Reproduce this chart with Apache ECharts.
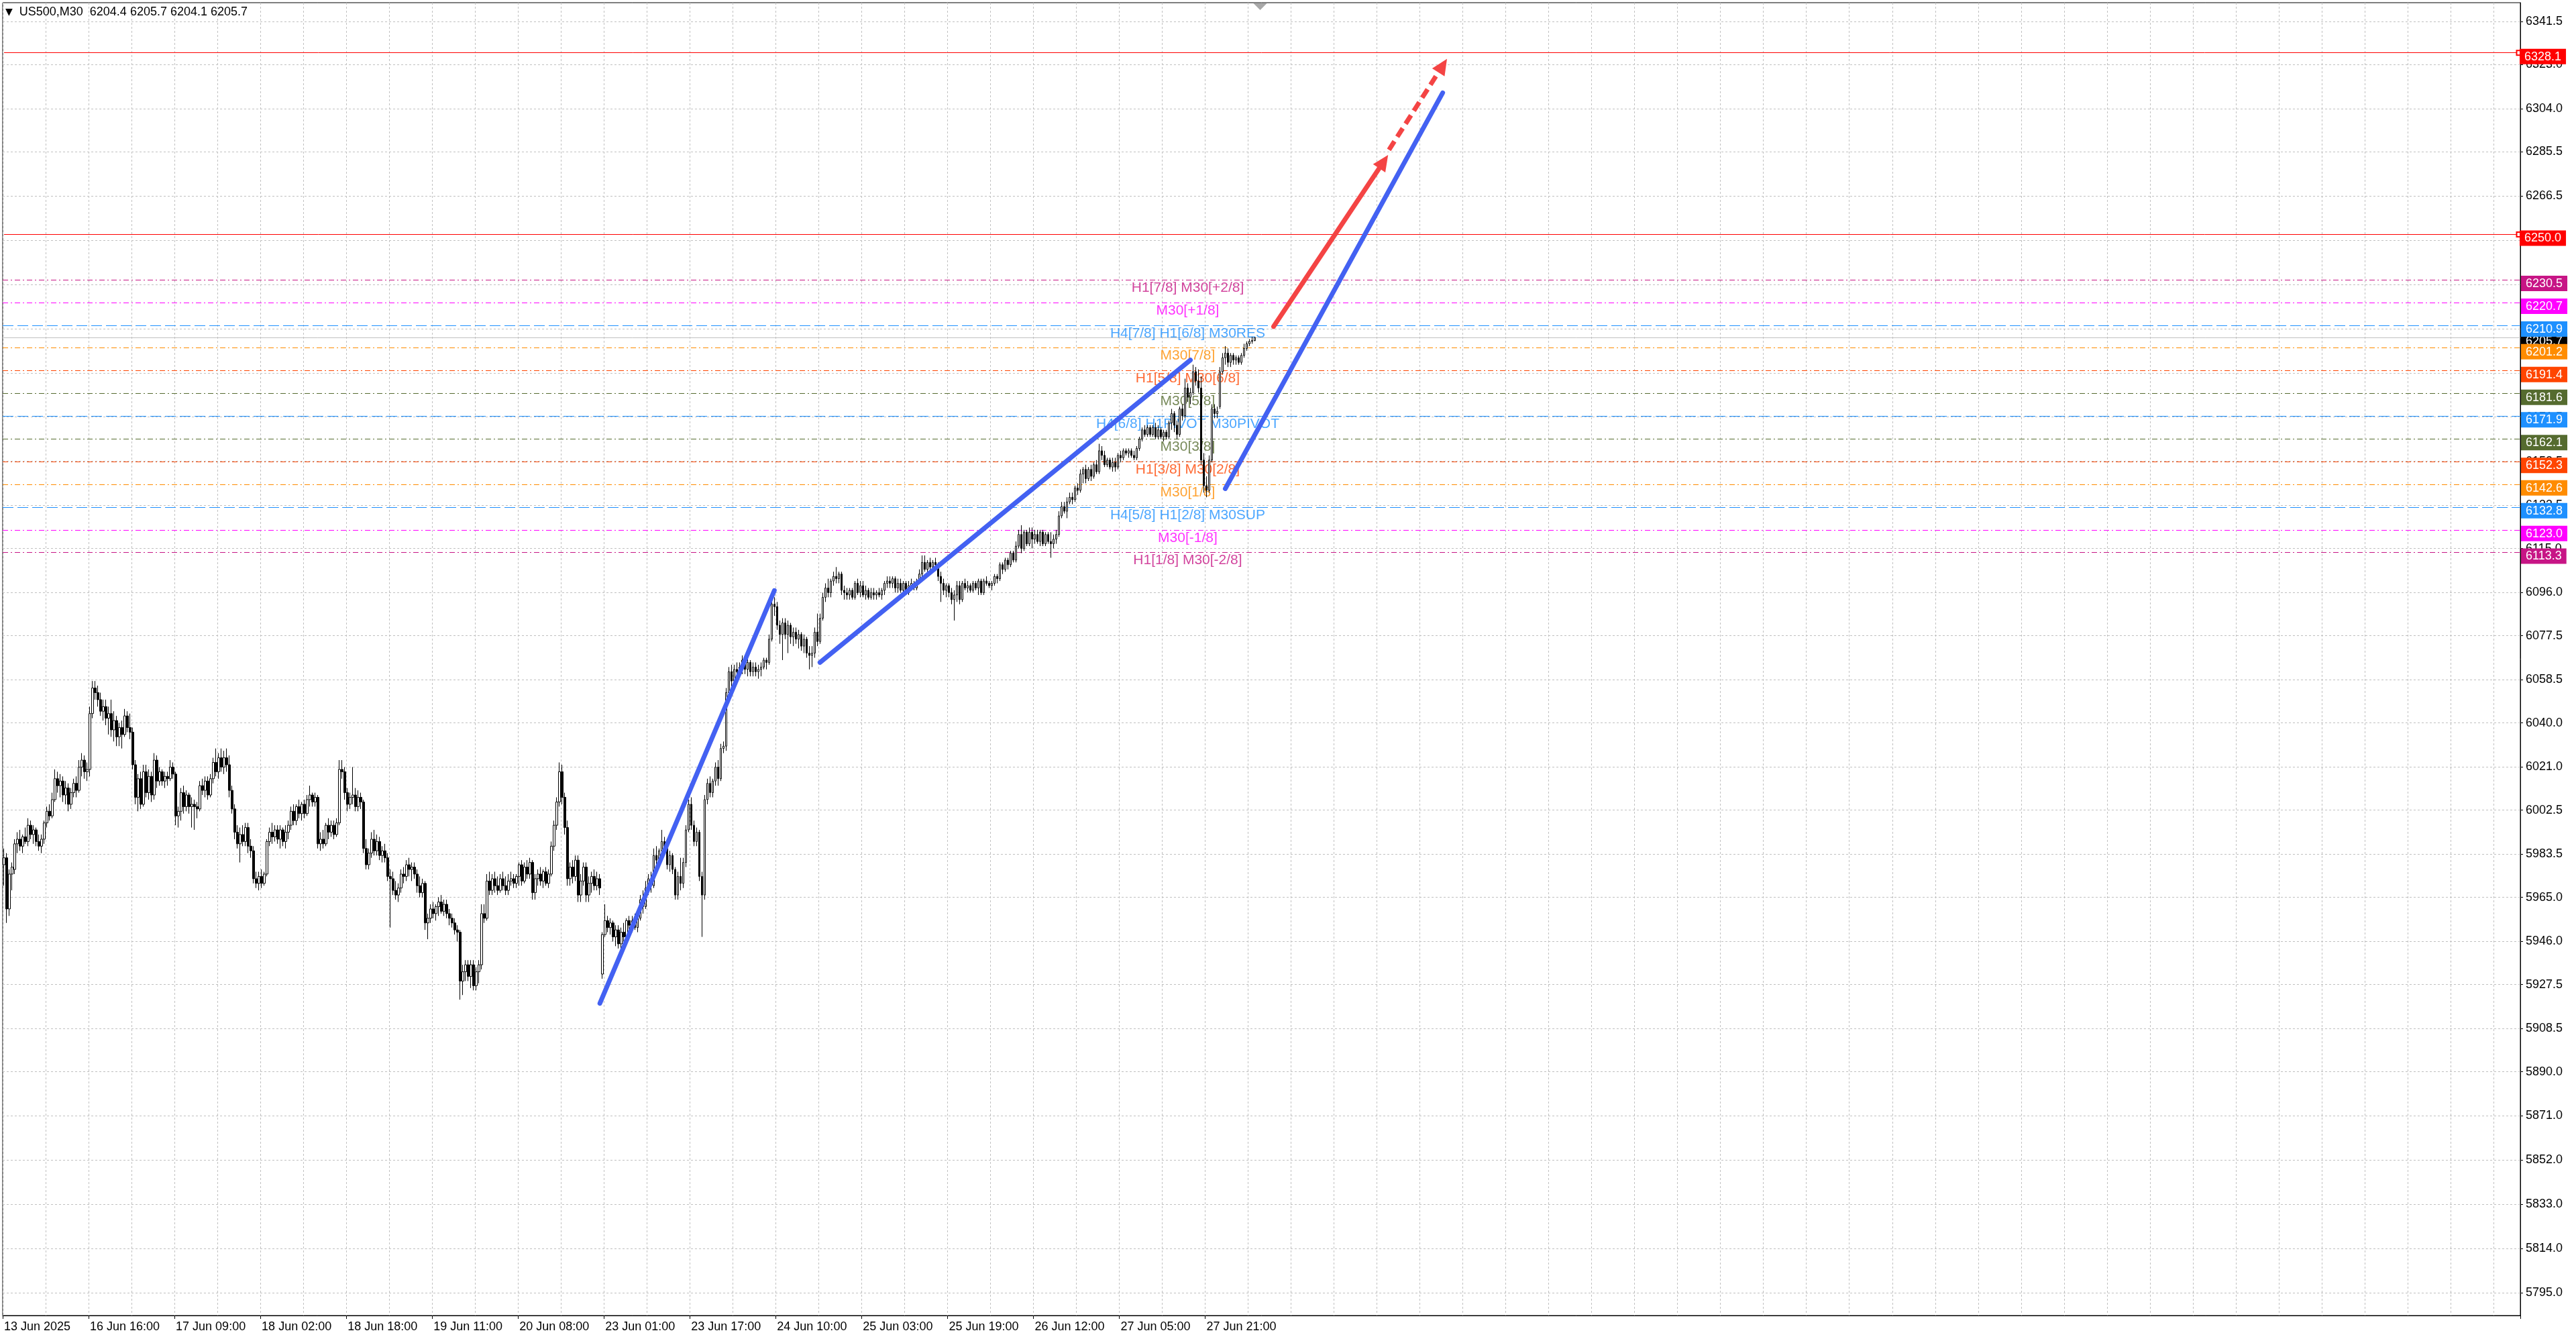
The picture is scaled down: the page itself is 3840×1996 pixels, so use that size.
<!DOCTYPE html>
<html><head><meta charset="utf-8">
<script src="https://cdn.jsdelivr.net/npm/echarts@6/dist/echarts.min.js"></script>
<style>html,body{margin:0;padding:0;background:#fff}#c{width:3840px;height:1996px}</style>
</head><body><div id="c"></div>
<script>
const timeTicks = ['13 Jun 2025','16 Jun 16:00','17 Jun 09:00','18 Jun 02:00','18 Jun 18:00','19 Jun 11:00','20 Jun 08:00','23 Jun 01:00','23 Jun 17:00','24 Jun 10:00','25 Jun 03:00','25 Jun 19:00','26 Jun 12:00','27 Jun 05:00','27 Jun 21:00'];
const yTickValues = [5795.0,5814.0,5833.0,5852.0,5871.0,5890.0,5908.5,5927.5,5946.0,5965.0,5983.5,6002.5,6021.0,6040.0,6058.5,6077.5,6096.0,6115.0,6133.5,6152.5,6171.5,6190.5,6209.5,6228.5,6247.5,6266.5,6285.5,6304.0,6323.0,6341.5];

const opens = [
5979,5982,5960,5975,5977,5988,5990,5987,5991,5989,
5996,5992,5994,5989,5987,5990,5997,6002,6000,6007,
6016,6013,6015,6009,6012,6005,6010,6014,6011,6021,
6024,6019,6020,6044,6055,6053,6050,6045,6047,6042,
6044,6037,6041,6034,6038,6035,6043,6038,6036,6022,
6008,6016,6005,6019,6010,6017,6009,6024,6015,6019,
6015,6017,6016,6021,6018,6000,6002,6010,6004,6009,
6004,6005,6004,6003,6013,6011,6015,6009,6016,6023,
6019,6025,6021,6025,6022,6011,6003,5993,5988,5992,
5989,5995,5987,5985,5973,5971,5974,5971,5975,5989,
5993,5991,5994,5990,5994,5989,5993,5996,6002,5998,
6004,6001,6005,6001,6007,6009,6006,6008,5988,5990,
5988,5996,5993,5996,5992,5997,6020,6019,6010,6005,
6008,6009,6004,6008,6006,5986,5979,5984,5990,5985,
5989,5983,5985,5982,5974,5973,5968,5966,5969,5975,
5974,5979,5977,5978,5975,5970,5967,5971,5954,5956,
5960,5958,5961,5963,5959,5962,5958,5956,5954,5951,
5950,5929,5933,5936,5931,5936,5927,5933,5936,5958,
5956,5972,5968,5973,5970,5968,5973,5970,5968,5972,
5973,5971,5974,5979,5972,5978,5975,5980,5967,5973,
5975,5972,5976,5971,5975,5987,5996,6006,6019,6008,
5995,5973,5978,5974,5981,5966,5972,5978,5966,5971,
5974,5970,5973,5932,5949,5955,5952,5954,5948,5951,
5945,5950,5948,5955,5953,5955,5952,5956,5964,5961,
5969,5973,5970,5983,5981,5985,5989,5986,5979,5983,
5977,5966,5974,5971,5980,5994,6005,5996,5989,5993,
5974,5966,6007,6014,6010,6015,6021,6016,6029,6030,
6053,6062,6058,6063,6062,6064,6067,6063,6066,6062,
6064,6062,6063,6064,6067,6066,6076,6091,6090,6082,
6078,6083,6078,6082,6077,6079,6076,6078,6073,6076,
6070,6069,6070,6079,6075,6085,6094,6098,6096,6101,
6103,6102,6104,6097,6096,6095,6097,6094,6100,6096,
6099,6095,6097,6094,6096,6095,6096,6095,6097,6100,
6101,6100,6102,6098,6100,6097,6100,6096,6099,6100,
6098,6101,6104,6109,6106,6109,6107,6109,6108,6103,
6100,6097,6099,6096,6093,6095,6099,6093,6100,6098,
6099,6097,6100,6098,6101,6096,6101,6100,6099,6100,
6103,6102,6108,6106,6110,6108,6113,6110,6116,6121,
6115,6122,6117,6122,6119,6121,6118,6122,6117,6121,
6118,6117,6119,6121,6129,6133,6131,6135,6137,6136,
6141,6140,6147,6149,6145,6149,6146,6151,6148,6157,
6155,6151,6153,6150,6152,6150,6155,6154,6157,6156,
6157,6155,6154,6158,6162,6166,6164,6167,6164,6167,
6163,6166,6163,6165,6163,6169,6173,6168,6164,6175,
6172,6184,6180,6182,6191,6187,6184,6153,6142,6140,
6153,6175,6173,6176,6191,6197,6199,6195,6198,6196,
6197,6195,6198,6201,6203,6204,6204.4];

const highs = [
5986,5984,5977,5980,5990,5993,5994,5992,5995,5999,
5998,5996,5995,5992,5992,5998,6004,6005,6010,6020,
6019,6018,6017,6015,6014,6012,6016,6017,6024,6027,
6026,6023,6047,6058,6058,6056,6053,6050,6050,6047,
6050,6045,6043,6040,6041,6046,6045,6044,6038,6024,
6018,6019,6022,6022,6020,6019,6027,6026,6021,6020,
6019,6019,6024,6023,6019,6004,6012,6013,6011,6010,
6008,6007,6006,6015,6016,6017,6017,6018,6025,6029,
6027,6029,6028,6029,6026,6013,6005,5996,5995,5996,
5997,5997,5990,5987,5976,5976,5977,5976,5990,5995,
5997,5996,5996,5996,5995,5996,5998,6004,6005,6005,
6007,6006,6007,6009,6013,6010,6010,6009,5993,5994,
5997,5999,5998,5998,5999,6024,6024,6021,6012,6010,
6021,6012,6011,6010,6007,5990,5986,5993,5994,5992,
5991,5987,5988,5984,5977,5976,5972,5971,5977,5978,
5981,5982,5980,5980,5977,5974,5973,5972,5958,5962,
5963,5962,5965,5966,5964,5964,5960,5958,5956,5953,
5951,5936,5938,5938,5938,5938,5935,5938,5962,5962,
5975,5976,5975,5976,5974,5975,5976,5974,5975,5976,
5975,5975,5980,5981,5980,5981,5982,5981,5975,5977,
5978,5977,5978,5977,5989,5998,6008,6023,6022,6010,
5998,5980,5981,5983,5983,5975,5980,5980,5974,5976,
5977,5976,5975,5950,5962,5957,5956,5955,5953,5953,
5952,5954,5956,5957,5957,5958,5957,5966,5968,5972,
5975,5976,5986,5987,5986,5994,5991,5987,5985,5984,
5978,5976,5982,5982,5996,6007,6008,5998,5995,5994,
5976,6009,6016,6017,6016,6023,6024,6031,6032,6055,
6064,6065,6065,6066,6066,6069,6069,6068,6067,6066,
6066,6065,6066,6068,6068,6078,6096,6094,6092,6084,
6085,6085,6084,6083,6081,6081,6080,6079,6078,6077,
6073,6073,6081,6087,6087,6096,6100,6102,6102,6105,
6107,6105,6105,6099,6098,6098,6098,6101,6102,6101,
6101,6099,6098,6098,6098,6097,6098,6098,6101,6103,
6103,6103,6103,6102,6102,6101,6101,6101,6102,6101,
6102,6106,6112,6112,6110,6111,6110,6111,6109,6105,
6102,6100,6100,6098,6097,6101,6101,6101,6102,6101,
6100,6101,6101,6102,6102,6102,6103,6101,6101,6104,
6104,6109,6109,6111,6111,6114,6114,6118,6123,6125,
6123,6123,6124,6124,6123,6123,6123,6123,6122,6122,
6122,6121,6123,6131,6135,6135,6137,6139,6139,6142,
6143,6149,6150,6151,6150,6151,6152,6153,6160,6159,
6157,6154,6154,6154,6154,6156,6157,6158,6158,6158,
6158,6157,6159,6163,6167,6168,6168,6168,6168,6169,
6168,6167,6166,6166,6170,6175,6174,6170,6176,6177,
6188,6186,6184,6194,6193,6192,6189,6156,6146,6155,
6177,6177,6176,6193,6199,6202,6201,6199,6199,6198,
6198,6199,6203,6204,6205,6206,6205.7];

const lows = [
5970,5954,5957,5968,5975,5984,5985,5984,5988,5987,
5990,5988,5987,5985,5984,5988,5995,5998,5999,6006,
6010,6008,6006,6005,6002,6003,6008,6008,6010,6017,
6016,6015,6017,6042,6050,6047,6043,6041,6039,6035,
6034,6032,6030,6030,6029,6034,6036,6033,6020,6005,
6002,6003,6004,6008,6007,6006,6007,6012,6013,6013,
6012,6013,6015,6016,5996,5995,5998,6001,6002,6001,
5995,5994,5999,6002,6009,6008,6007,6008,6014,6017,
6016,6019,6018,6019,6008,6001,5990,5986,5980,5987,
5987,5984,5982,5971,5969,5968,5969,5970,5974,5987,
5988,5989,5988,5986,5987,5986,5990,5994,5996,5996,
5999,5998,5999,6000,6004,6004,6004,5986,5985,5986,
5987,5990,5991,5990,5991,5996,6016,6007,6002,6003,
6005,6002,6002,6003,5984,5977,5977,5982,5983,5983,
5981,5980,5980,5972,5952,5966,5964,5963,5967,5971,
5972,5974,5972,5973,5967,5965,5965,5951,5947,5954,
5956,5955,5957,5958,5957,5956,5953,5952,5949,5946,
5921,5923,5929,5929,5926,5925,5925,5928,5934,5954,
5955,5966,5966,5967,5966,5967,5968,5966,5966,5970,
5969,5969,5970,5970,5971,5973,5973,5964,5964,5970,
5970,5969,5970,5969,5974,5985,5994,6004,6005,5992,
5970,5970,5971,5972,5963,5963,5970,5963,5963,5967,
5968,5968,5966,5930,5948,5950,5949,5946,5944,5943,
5943,5946,5947,5951,5950,5951,5950,5955,5958,5960,
5966,5967,5969,5979,5979,5984,5984,5977,5976,5975,
5964,5964,5968,5969,5978,5993,5994,5987,5987,5972,
5948,5964,6005,6008,6008,6013,6013,6015,6027,6028,
6051,6055,6056,6060,6060,6061,6061,6060,6060,6060,
6060,6059,6060,6063,6063,6065,6075,6086,6080,6074,
6067,6076,6070,6074,6073,6074,6072,6071,6070,6068,
6063,6064,6068,6073,6074,6084,6092,6094,6094,6099,
6100,6100,6095,6093,6093,6093,6093,6093,6095,6094,
6094,6093,6093,6093,6093,6093,6094,6093,6095,6098,
6098,6098,6096,6096,6096,6095,6095,6095,6097,6097,
6097,6100,6103,6105,6105,6106,6106,6106,6101,6092,
6095,6094,6094,6091,6084,6092,6091,6092,6097,6096,
6096,6096,6097,6095,6095,6095,6099,6098,6097,6099,
6100,6101,6104,6105,6106,6107,6109,6109,6115,6113,
6114,6116,6116,6115,6117,6117,6116,6116,6116,6117,
6111,6115,6117,6120,6128,6130,6128,6134,6134,6135,
6138,6139,6143,6143,6144,6144,6145,6147,6147,6153,
6150,6150,6149,6148,6148,6149,6152,6153,6155,6154,
6154,6153,6153,6157,6161,6163,6163,6163,6163,6162,
6162,6162,6161,6162,6162,6166,6165,6162,6163,6170,
6171,6178,6177,6181,6185,6182,6151,6139,6137,6139,
6152,6171,6171,6175,6190,6194,6193,6193,6194,6194,
6194,6194,6197,6200,6202,6203,6204.1];

const closes = [
5982,5960,5975,5978,5988,5990,5987,5991,5989,5996,
5992,5994,5989,5987,5990,5997,6002,6000,6007,6016,
6013,6015,6009,6012,6005,6010,6014,6011,6021,6024,
6019,6020,6044,6055,6053,6050,6045,6047,6042,6044,
6037,6041,6034,6038,6035,6043,6038,6036,6022,6008,
6016,6005,6019,6010,6017,6009,6024,6015,6019,6015,
6017,6016,6021,6018,6000,6002,6010,6004,6009,6004,
6005,6004,6003,6013,6011,6015,6009,6016,6023,6019,
6025,6021,6025,6022,6011,6003,5993,5988,5992,5989,
5995,5987,5985,5973,5971,5974,5971,5975,5989,5993,
5991,5994,5990,5994,5989,5993,5996,6002,5998,6004,
6001,6005,6001,6007,6009,6006,6008,5988,5990,5988,
5996,5993,5996,5992,5997,6020,6019,6010,6005,6008,
6009,6004,6008,6006,5986,5979,5984,5990,5985,5989,
5983,5985,5982,5974,5973,5968,5966,5969,5975,5974,
5979,5977,5978,5975,5970,5967,5971,5954,5956,5960,
5958,5961,5963,5959,5962,5958,5956,5954,5951,5950,
5929,5933,5936,5931,5936,5927,5933,5936,5958,5956,
5972,5968,5973,5970,5968,5973,5970,5968,5972,5973,
5971,5974,5979,5972,5978,5975,5980,5967,5973,5975,
5972,5976,5971,5975,5987,5996,6006,6019,6008,5995,
5973,5978,5974,5981,5966,5972,5978,5966,5971,5974,
5970,5973,5969,5949,5955,5952,5954,5948,5951,5945,
5950,5948,5955,5953,5955,5952,5956,5964,5961,5969,
5973,5970,5983,5981,5985,5989,5986,5979,5983,5977,
5966,5974,5971,5980,5994,6005,5996,5989,5993,5974,
5966,6007,6014,6010,6015,6021,6016,6029,6030,6053,
6062,6058,6063,6062,6064,6067,6063,6066,6062,6064,
6062,6063,6064,6067,6066,6076,6091,6090,6082,6078,
6083,6078,6082,6077,6079,6076,6078,6073,6076,6070,
6069,6070,6079,6075,6085,6094,6098,6096,6101,6103,
6102,6104,6097,6096,6095,6097,6094,6100,6096,6099,
6095,6097,6094,6096,6095,6096,6095,6097,6100,6101,
6100,6102,6098,6100,6097,6100,6096,6099,6100,6098,
6101,6104,6109,6106,6109,6107,6109,6108,6103,6100,
6097,6099,6096,6093,6095,6099,6093,6100,6098,6099,
6097,6100,6098,6101,6096,6101,6100,6099,6100,6103,
6102,6108,6106,6110,6108,6113,6110,6116,6121,6115,
6122,6117,6122,6119,6121,6118,6122,6117,6121,6118,
6117,6119,6121,6129,6133,6131,6135,6137,6136,6141,
6140,6147,6149,6145,6149,6146,6151,6148,6157,6155,
6151,6153,6150,6152,6150,6155,6154,6157,6156,6157,
6155,6154,6158,6162,6166,6164,6167,6164,6167,6163,
6166,6163,6165,6163,6169,6173,6168,6164,6175,6172,
6184,6180,6182,6191,6187,6184,6153,6142,6140,6153,
6175,6173,6174,6191,6197,6199,6195,6198,6196,6197,
6195,6198,6201,6203,6204,6204.4,6205.7];

const headerSymbol = 'US500,M30';
const headerOHLC = [6204.4, 6205.7, 6204.1, 6205.7];
const currentPrice = 6205.7;
const redLevels = [6328.1, 6250.0];
const murreyValues = [6230.5, 6220.7, 6210.9, 6201.2, 6191.4, 6181.6, 6171.9, 6162.1, 6152.3, 6142.6, 6132.8, 6123.0, 6113.3];
const murreyNames = ['H1[7/8] M30[+2/8]','M30[+1/8]','H4[7/8] H1[6/8] M30RES','M30[7/8]','H1[5/8] M30[6/8]','M30[5/8]','H4[6/8] H1PIVOT M30PIVOT','M30[3/8]','H1[3/8] M30[2/8]','M30[1/8]','H4[5/8] H1[2/8] M30SUP','M30[-1/8]','H1[1/8] M30[-2/8]'];
const levelTextBar = 441;
const blueTrends = [
  [[222, 5919.4], [287, 6096.9]],
  [[304, 6066.0], [442, 6196.0]],
  [[455, 6140.7], [536, 6310.9]]
];
const arrowSolid = [[473, 6210.4], [514, 6281.3]];
const arrowDashed = [[516, 6286.4], [536, 6322.6]];
const shiftMarker = [468, 6347.9];

const SLOTS = 938;
const LABEL_EVERY = 32;
const barSlots = Array.from({length: SLOTS}, (_, i) => String(i));
const FONT = 'Liberation Sans, Arial, sans-serif';

const murreyColors = ['#C71585','#FF00FF','#1E90FF','#FF8C00','#FF4500','#556B2F','#1E90FF','#556B2F','#FF4500','#FF8C00','#1E90FF','#FF00FF','#C71585'];
const DASHDOT = [8, 4, 2, 4];
const DASH = [16, 6];

function boxLabel(text, bg) {
  return {
    show: true, position: 'end', distance: 1,
    formatter: () => '{box|' + text + '}',
    padding: [11, 0, 0, 0],
    rich: { box: { backgroundColor: bg, color: '#ffffff', fontSize: 18, fontFamily: FONT, padding: [3, 7, 2, 7], lineHeight: 18 } }
  };
}

const levelData = [];
levelData.push({ yAxis: currentPrice, lineStyle: { color: '#C0C0C0', width: 1, type: 'solid' }, label: boxLabel(currentPrice.toFixed(1), '#000000') });
murreyValues.forEach((v, i) => {
  const c = murreyColors[i];
  levelData.push({ yAxis: v, lineStyle: { color: c, width: 1, type: c === '#1E90FF' ? DASH : DASHDOT }, label: boxLabel(v.toFixed(1), c) });
});
redLevels.forEach(v => {
  levelData.push([
    { coord: [0, v], symbol: 'none', lineStyle: { color: '#FF0000', width: 1, type: 'solid' }, label: boxLabel(v.toFixed(1), '#FF0000') },
    { coord: [SLOTS - 1, v], symbol: 'emptyRect', symbolSize: 7 }
  ]);
});

const candleData = opens.map((o, i) => [o, closes[i], lows[i], highs[i]]);

const trendData = blueTrends.map(seg => [
  { coord: seg[0], symbol: 'none', lineStyle: { color: '#4361F2', width: 7, cap: 'round', type: 'solid' } },
  { coord: seg[1], symbol: 'none' }
]);
trendData.push([
  { coord: arrowSolid[0], symbol: 'none', lineStyle: { color: '#F44444', width: 7, cap: 'round', type: 'solid' } },
  { coord: arrowSolid[1], symbol: 'triangle', symbolSize: [22, 24], itemStyle: { color: '#F44444' } }
]);
trendData.push([
  { coord: arrowDashed[0], symbol: 'none', lineStyle: { color: '#F44444', width: 7, cap: 'butt', type: [15, 8] } },
  { coord: arrowDashed[1], symbol: 'triangle', symbolSize: [22, 24], itemStyle: { color: '#F44444' } }
]);

const hasTimeLabel = i => i % LABEL_EVERY === 0 && i / LABEL_EVERY < timeTicks.length;

const chart = echarts.init(document.getElementById('c'));
chart.setOption({
  animation: false,
  backgroundColor: '#ffffff',
  title: {
    text: '{t|\u25BC}  ' + headerSymbol + '  ' + headerOHLC.map(v => v.toFixed(1)).join(' '),
    left: 8, top: 9, padding: 0,
    textStyle: { fontSize: 18, fontWeight: 'normal', color: '#000', fontFamily: FONT,
      rich: { t: { fontSize: 14, color: '#000', fontFamily: 'DejaVu Sans' } } }
  },
  grid: { left: 4, right: 83, top: 4, bottom: 35, show: true, borderColor: '#000', borderWidth: 1, backgroundColor: '#fff' },
  xAxis: {
    type: 'category', data: barSlots, boundaryGap: true,
    axisLine: { show: true, lineStyle: { color: '#000', width: 1 } },
    axisTick: { show: true, interval: (i) => hasTimeLabel(i), length: 5, lineStyle: { color: '#000' } },
    axisLabel: {
      interval: (i) => hasTimeLabel(i), align: 'left', margin: 8, fontSize: 18, color: '#000', fontFamily: FONT,
      formatter: (v, i) => hasTimeLabel(i) ? timeTicks[i / LABEL_EVERY] : ''
    },
    splitLine: { show: true, interval: 15, lineStyle: { color: '#C0C0C0', width: 1, type: [3, 3] } }
  },
  yAxis: {
    type: 'value', position: 'right', min: 5785.2, max: 6349.65,
    axisLine: { show: true, lineStyle: { color: '#000', width: 1 } },
    axisTick: { show: true, length: 4, customValues: yTickValues, lineStyle: { color: '#000' } },
    axisLabel: { customValues: yTickValues, formatter: v => Number(v).toFixed(1), margin: 8, fontSize: 18, color: '#000', fontFamily: FONT },
    splitLine: { show: true, lineStyle: { color: '#C0C0C0', width: 1, type: [3, 3] } }
  },
  series: [
    {
      type: 'line', name: 'levels', data: [], silent: true, z: 1,
      markLine: { silent: true, z: 1, symbol: 'none', animation: false, data: levelData }
    },
    {
      type: 'scatter', name: 'levelText', silent: true, z: 2,
      symbolSize: 1, itemStyle: { color: 'rgba(0,0,0,0)' },
      data: murreyValues.map((v, i) => ({ name: murreyNames[i], value: [levelTextBar, v], label: { color: murreyColors[i] } })),
      label: { show: true, position: 'bottom', distance: 1, formatter: p => p.name, fontSize: 21, fontFamily: FONT }
    },
    {
      type: 'candlestick', name: headerSymbol, data: candleData, barWidth: 3, z: 3,
      itemStyle: { color: '#ffffff', color0: '#000000', borderColor: '#000000', borderColor0: '#000000', borderWidth: 1 },
      markPoint: {
        silent: true, symbol: 'triangle', symbolSize: [20, 10], symbolRotate: 180,
        itemStyle: { color: '#A8A8A8' }, label: { show: false },
        data: [{ coord: shiftMarker }]
      }
    },
    {
      type: 'line', name: 'trend', data: [], silent: true, z: 6,
      markLine: { silent: true, z: 6, symbol: 'none', animation: false, label: { show: false }, data: trendData }
    }
  ]
});
</script></body></html>
